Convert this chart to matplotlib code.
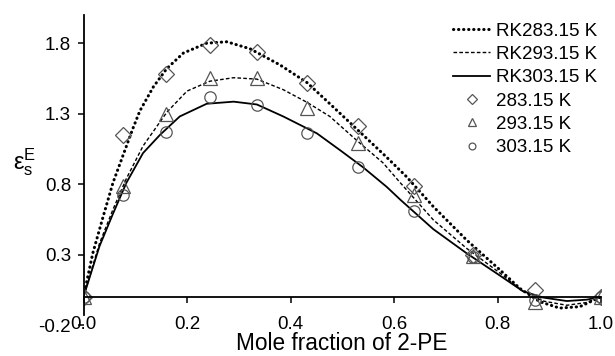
import matplotlib
matplotlib.use("Agg")
import matplotlib.pyplot as plt

plt.rcParams['font.family'] = ['Liberation Sans', 'DejaVu Sans']
plt.rcParams['mathtext.fontset'] = 'custom'
plt.rcParams['mathtext.rm'] = 'Liberation Sans'
plt.rcParams['mathtext.it'] = 'Liberation Sans:italic'

# Experimental points
x_exp = [0.0, 0.076, 0.159, 0.244, 0.335, 0.432, 0.53, 0.639, 0.752, 0.872, 1.0]
y_283 = [0.0, 1.15, 1.58, 1.79, 1.74, 1.52, 1.21, 0.79, 0.30, 0.05, 0.0]
y_293 = [0.0, 0.79, 1.30, 1.55, 1.55, 1.34, 1.09, 0.72, 0.29, -0.04, 0.0]
y_303 = [0.0, 0.72, 1.17, 1.42, 1.36, 1.16, 0.92, 0.61, 0.28, -0.02, 0.0]

# Redlich-Kister curves
x_rk283 = [0.0, 0.018, 0.038, 0.057, 0.08, 0.096, 0.109, 0.135, 0.161, 0.193, 0.238,
           0.277, 0.322, 0.38, 0.432, 0.476, 0.534, 0.586, 0.624, 0.676, 0.74,
           0.805, 0.843, 0.882, 0.92, 0.959, 1.0]
y_rk283 = [0.0, 0.31, 0.57, 0.81, 1.04, 1.20, 1.32, 1.49, 1.62, 1.73, 1.80,
           1.81, 1.76, 1.645, 1.52, 1.37, 1.17, 0.99, 0.853, 0.64, 0.404,
           0.19, 0.06, -0.035, -0.08, -0.07, 0.0]
x_rk293 = [0.0, 0.031, 0.057, 0.083, 0.115, 0.161, 0.2, 0.244, 0.29, 0.335, 0.386,
           0.432, 0.476, 0.528, 0.579, 0.612, 0.676, 0.74, 0.805, 0.849,
           0.888, 0.934, 0.973, 1.0]
y_rk293 = [0.0, 0.38, 0.62, 0.84, 1.07, 1.31, 1.46, 1.53, 1.555, 1.545, 1.47,
           1.38, 1.28, 1.11, 0.95, 0.81, 0.546, 0.345, 0.168, 0.04,
           -0.03, -0.06, -0.04, 0.0]
x_rk303 = [0.0, 0.031, 0.057, 0.083, 0.115, 0.148, 0.186, 0.238, 0.29, 0.335, 0.386,
           0.451, 0.496, 0.54, 0.586, 0.612, 0.676, 0.74, 0.805, 0.849,
           0.888, 0.934, 0.973, 1.0]
y_rk303 = [0.0, 0.36, 0.59, 0.81, 1.02, 1.15, 1.28, 1.37, 1.385, 1.365, 1.28,
           1.16, 1.04, 0.92, 0.78, 0.69, 0.48, 0.31, 0.15, 0.04,
           -0.005, -0.03, -0.02, 0.0]

x_ticks = [0.0, 0.2, 0.4, 0.6, 0.8, 1.0]
x_ticklabels = ['0.0', '0.2', '0.4', '0.6', '0.8', '1.0']
y_ticks = [-0.2, 0.3, 0.8, 1.3, 1.8]
y_ticklabels = ['-0.2', '0.3', '0.8', '1.3', '1.8']

fig = plt.figure(figsize=(6.15, 3.56), dpi=100)
ax = fig.add_axes([83.5/615, 31/356, (601-83.5)/615, 310/356])

ax.plot(x_rk283, y_rk283, color='black', lw=2.2, linestyle=(0, (0.1, 1.55)),
        dash_capstyle='round', label='RK283.15 K')
ax.plot(x_rk293, y_rk293, color='black', lw=1.0, linestyle=(0, (2.6, 1.6)),
        label='RK293.15 K')
ax.plot(x_rk303, y_rk303, color='black', lw=1.3, linestyle='-', label='RK303.15 K')

mk = dict(linestyle='none', markerfacecolor='none', markeredgecolor='#555555', mew=0.9)
ax.plot(x_exp, y_283, marker='D', ms=8.5, label='283.15 K', **mk)
ax.plot(x_exp, y_293, marker='^', ms=9.5, label='293.15 K', **mk)
ax.plot(x_exp, y_303, marker='o', ms=8.2, label='303.15 K', **mk)

ax.set_xlim(0, 1.0)
ax.set_ylim(-0.2, 2.0)
ax.set_xticks(x_ticks)
ax.set_xticklabels(x_ticklabels)
ax.set_yticks(y_ticks)
ax.set_yticklabels(y_ticklabels)

ax.spines['top'].set_visible(False)
ax.spines['right'].set_visible(False)
ax.spines['bottom'].set_position(('data', 0))
ax.spines['left'].set_bounds(-0.13, 2.0)
for s in ['left', 'bottom']:
    ax.spines[s].set_linewidth(1.3)
ax.tick_params(axis='both', labelsize=13.5, width=1.1, length=4, direction='out')
ax.tick_params(axis='x', pad=10)
ax.tick_params(axis='y', pad=5)

fig.text(342/615, 1 - 344/356, 'Mole fraction of 2-PE', fontsize=16.3,
         ha='center', va='center')
fig.text(25/615, 1 - 162/356, r'$\mathregular{ε_s^E}$', fontsize=17,
         ha='center', va='center')

leg = ax.legend(loc='upper right', bbox_to_anchor=(1.008, 1.0), frameon=False,
                fontsize=13.5, handlelength=2.0, handletextpad=0.32, labelspacing=0.33,
                markerscale=0.6, borderaxespad=0.0)

fig.savefig('out.png', dpi=100)
